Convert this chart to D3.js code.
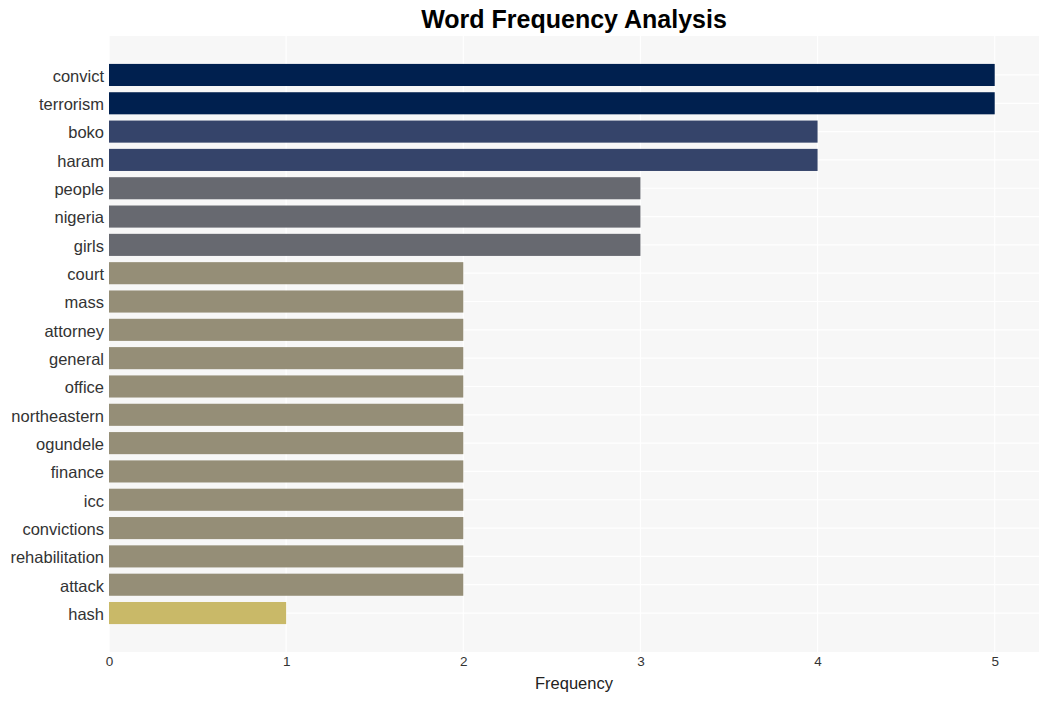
<!DOCTYPE html>
<html><head><meta charset="utf-8">
<script src="https://cdn.jsdelivr.net/npm/d3@7"></script>
<style>body{margin:0;background:#fff;}svg{display:block;font-family:"Liberation Sans",Arial,sans-serif;}</style>
</head><body>
<svg id="c" width="1049" height="701"></svg>
<script>
const words = ["convict","terrorism","boko","haram","people","nigeria","girls","court","mass","attorney","general","office","northeastern","ogundele","finance","icc","convictions","rehabilitation","attack","hash"];
const counts = [5,5,4,4,3,3,3,2,2,2,2,2,2,2,2,2,2,2,2,1];
const xTicks = [0,1,2,3,4,5];
const colorByCount = {5:"#00204f",4:"#35446a",3:"#676970",2:"#958e77",1:"#c9b968"};

const svg = d3.select("#c");
const L=109, R=1039, T=36, B=652;
const x = d3.scaleLinear().domain([0,5.25]).range([L,R]);
const y = d3.scaleBand().domain(words).range([60.8,627.2]).paddingInner(0.22).paddingOuter(0.11);

svg.append("rect").attr("x",L).attr("y",T).attr("width",R-L).attr("height",B-T).attr("fill","#f7f7f7");
// grid
svg.append("g").selectAll("line").data(xTicks).join("line")
  .attr("x1",d=>x(d)).attr("x2",d=>x(d)).attr("y1",T).attr("y2",B)
  .attr("stroke","#ffffff").attr("stroke-width",1.2);
svg.append("g").selectAll("line").data(words).join("line")
  .attr("x1",L).attr("x2",R).attr("y1",d=>y(d)+y.bandwidth()/2).attr("y2",d=>y(d)+y.bandwidth()/2)
  .attr("stroke","#ffffff").attr("stroke-width",1.2);

svg.append("g").selectAll("rect").data(words).join("rect")
  .attr("x",x(0)).attr("y",d=>y(d)).attr("height",y.bandwidth())
  .attr("width",(d,i)=>x(counts[i])-x(0)).attr("fill",(d,i)=>colorByCount[counts[i]]);

// y axis labels
const ya = svg.append("g").attr("transform",`translate(${L},1.5)`).call(d3.axisLeft(y).tickSize(0).tickPadding(5));
ya.select(".domain").remove();
ya.selectAll("text").attr("font-size",16.5).attr("fill","#333").attr("font-family","Liberation Sans, Arial, sans-serif");

const xa = svg.append("g").attr("transform",`translate(0,${B})`).call(d3.axisBottom(x).tickValues(xTicks).tickFormat(d3.format("d")).tickSize(0).tickPadding(4));
xa.select(".domain").remove();
xa.selectAll("text").attr("font-size",13.5).attr("fill","#333").attr("font-family","Liberation Sans, Arial, sans-serif");

svg.append("text").attr("x",(L+R)/2).attr("y",689).attr("text-anchor","middle")
  .attr("font-size",16.5).attr("fill","#222").text("Frequency");
svg.append("text").attr("x",(L+R)/2).attr("y",28).attr("text-anchor","middle")
  .attr("font-size",25).attr("font-weight","bold").attr("fill","#000").text("Word Frequency Analysis");
</script>
</body></html>
